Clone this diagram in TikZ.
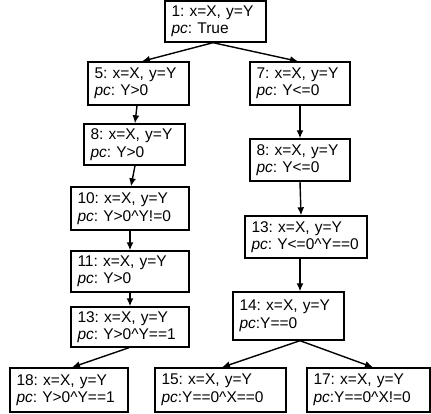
\documentclass[tikz,border=0pt]{standalone}
\usepackage{fontspec}
\setmainfont{Liberation Sans}
\usetikzlibrary{arrows.meta}
\begin{document}
\begin{tikzpicture}[x=1pt,y=-1pt,
  bx/.style n args={2}{draw, line width=1.4pt, align=left, inner xsep=6.5pt, inner ysep=0pt,
     text width=#1, minimum height=#2, font=\fontsize{15.5}{17.5}\selectfont\frenchspacing},
  arr/.style={line width=1.4pt, -{Latex[length=8pt,width=7pt]}}]
\useasboundingbox (0,0) rectangle (431,414);
\node[bx={88pt}{41pt}] (n1) at (215.5,21.5) {1: x=X, y=Y\\\textit{pc}: True};
\node[bx={88pt}{43pt}] (n5) at (138.5,83.5) {5: x=X, y=Y\\\textit{pc}: Y>0};
\node[bx={87pt}{43pt}] (n7) at (300,83.5) {7: x=X, y=Y\\\textit{pc}: Y<=0};
\node[bx={88pt}{41pt}] (n8l) at (134.5,144.5) {8: x=X, y=Y\\\textit{pc}: Y>0};
\node[bx={87pt}{42pt}] (n8r) at (300,160) {8: x=X, y=Y\\\textit{pc}: Y<=0};
\node[bx={105pt}{43pt}] (n10) at (130,208.5) {10: x=X, y=Y\\\textit{pc}: Y>0\^{}Y!=0};
\node[bx={105pt}{41pt}] (n11) at (130,271.5) {11: x=X, y=Y\\\textit{pc}: Y>0};
\node[bx={105pt}{40pt}] (n13l) at (130,327) {13: x=X, y=Y\\\textit{pc}: Y>0\^{}Y==1};
\node[bx={109pt}{42pt}] (n13r) at (306,237) {13: x=X, y=Y\\\textit{pc}: Y<=0\^{}Y==0};
\node[bx={98pt}{48pt}] (n14) at (288.5,316) {14: x=X, y=Y\\\textit{pc}:Y==0};
\node[bx={105pt}{44pt}] (n18) at (69,390) {18: x=X, y=Y\\\textit{pc}: Y>0\^{}Y==1};
\node[bx={118pt}{44pt}] (n15) at (220.5,390) {15: x=X, y=Y\\\textit{pc}:Y==0\^{}X==0};
\node[bx={110pt}{44pt}] (n17) at (368.5,390) {17: x=X, y=Y\\\textit{pc}:Y==0\^{}X!=0};
\draw[arr] ([xshift=-2.5pt]n1.south) -- ([xshift=3.5pt]n5.north);
\draw[arr] ([xshift=-2.5pt]n1.south) -- ([xshift=-2pt]n7.north);
\draw[arr] ([xshift=-1.5pt]n5.south) -- ([xshift=0.5pt]n8l.north);
\draw[arr] ([xshift=0.5pt]n8l.south) -- ([xshift=1pt]n10.north);
\draw[arr] (n10.south) -- (n11.north);
\draw[arr] (n11.south) -- (n13l.north);
\draw[arr] ([xshift=-1pt]n13l.south) -- ([xshift=3pt]n18.north);
\draw[arr] (n7.south) -- (n8r.north);
\draw[arr] (n8r.south) -- ([xshift=-5pt]n13r.north);
\draw[arr] ([xshift=-6pt]n13r.south) -- ([xshift=11.5pt]n14.north);
\draw[arr] ([xshift=11.5pt]n14.south) -- ([xshift=1.5pt]n15.north);
\draw[arr] ([xshift=11.5pt]n14.south) -- ([xshift=4.5pt]n17.north);
\end{tikzpicture}
\end{document}
